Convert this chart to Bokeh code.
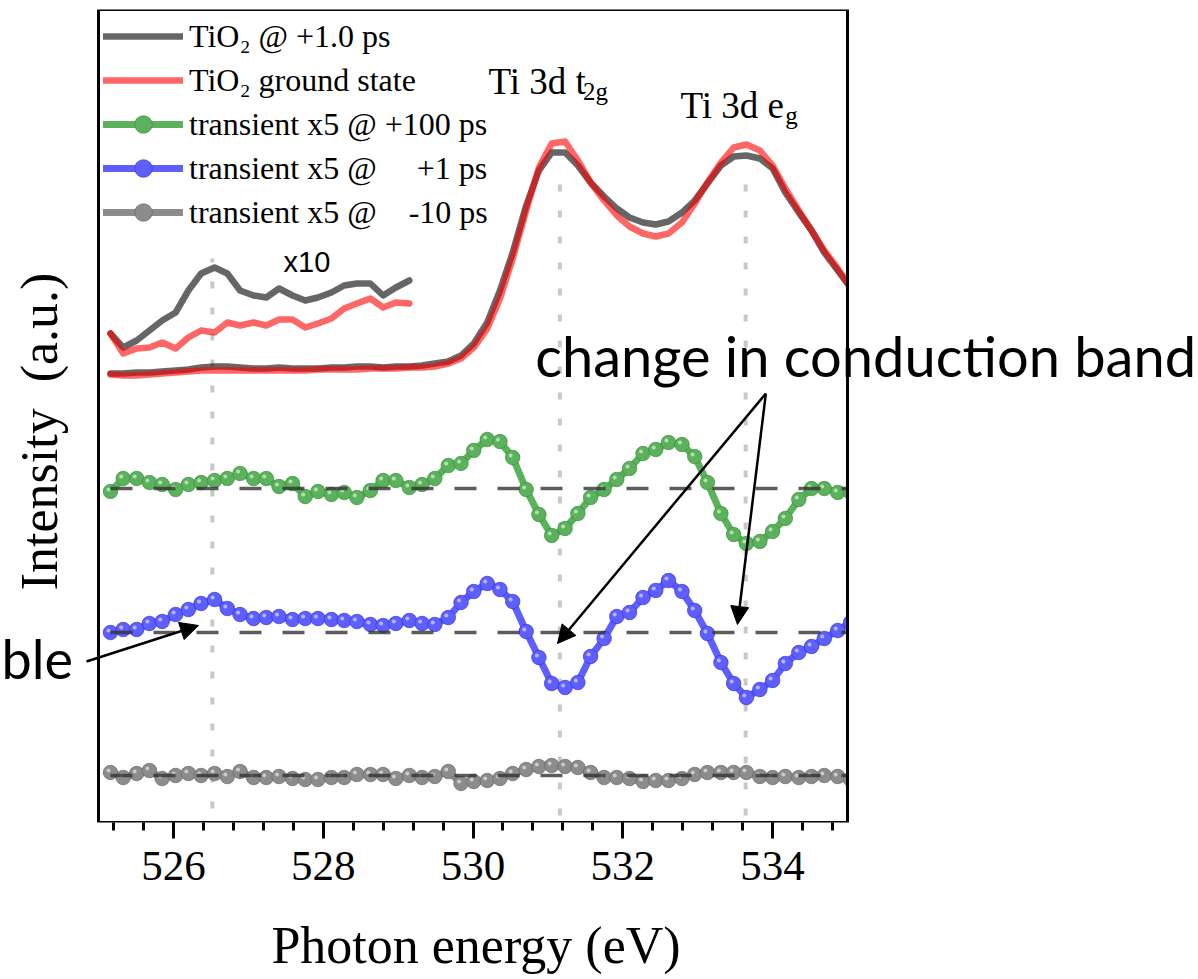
import numpy as np
from bokeh.plotting import figure
from bokeh.models import (Range1d, FixedTicker, Legend, LegendItem, Label, Arrow,
                          NormalHead, BoxAnnotation)
from bokeh.embed import file_html
from bokeh.resources import INLINE

# Photon energy grid (eV)
energy = [525.16, 525.33, 525.51, 525.68, 525.85, 526.03, 526.20, 526.37, 526.55, 526.72,
          526.89, 527.07, 527.24, 527.41, 527.59, 527.76, 527.93, 528.11, 528.28, 528.45,
          528.63, 528.80, 528.97, 529.15, 529.32, 529.49, 529.67, 529.84, 530.01, 530.19,
          530.36, 530.53, 530.71, 530.88, 531.05, 531.23, 531.40, 531.57, 531.75, 531.92,
          532.09, 532.27, 532.44, 532.61, 532.79, 532.96, 533.13, 533.31, 533.48, 533.65,
          533.83, 534.00, 534.17, 534.35, 534.52, 534.69, 534.87, 535.04]

# O K-edge absorption of TiO2 (a.u., pre-edge ~ 0)
spec_excited = [-0.01, -0.01, 0.00, 0.00, 0.01, 0.02, 0.03, 0.05, 0.06, 0.06,
                0.05, 0.04, 0.04, 0.05, 0.04, 0.04, 0.04, 0.05, 0.05, 0.06,
                0.06, 0.05, 0.06, 0.06, 0.07, 0.09, 0.11, 0.17, 0.29, 0.50,
                0.82, 1.20, 1.67, 2.02, 2.20, 2.20, 2.07, 1.90, 1.76, 1.64,
                1.55, 1.50, 1.48, 1.51, 1.60, 1.72, 1.89, 2.07, 2.16, 2.17,
                2.14, 2.04, 1.80, 1.60, 1.42, 1.20, 1.02, 0.85]
spec_ground = [-0.02, -0.03, -0.03, -0.02, -0.01, 0.00, 0.01, 0.02, 0.02, 0.02,
               0.02, 0.02, 0.02, 0.02, 0.02, 0.02, 0.03, 0.03, 0.03, 0.03,
               0.04, 0.04, 0.04, 0.05, 0.05, 0.06, 0.09, 0.14, 0.25, 0.44,
               0.74, 1.14, 1.62, 2.05, 2.29, 2.31, 2.12, 1.90, 1.72, 1.57,
               1.46, 1.39, 1.36, 1.39, 1.50, 1.69, 1.90, 2.10, 2.25, 2.28,
               2.22, 2.07, 1.84, 1.62, 1.42, 1.22, 1.04, 0.85]

# Pre-edge region magnified x10 (first 24 energies)
inset_excited = [0.39, 0.25, 0.32, 0.42, 0.52, 0.60, 0.82, 0.99, 1.05, 0.99,
                 0.82, 0.77, 0.75, 0.84, 0.77, 0.72, 0.75, 0.80, 0.87, 0.89,
                 0.89, 0.77, 0.85, 0.92]
inset_ground = [0.39, 0.19, 0.24, 0.25, 0.30, 0.24, 0.35, 0.42, 0.40, 0.50,
                0.47, 0.50, 0.47, 0.53, 0.53, 0.45, 0.49, 0.54, 0.64, 0.69,
                0.74, 0.65, 0.70, 0.69]

# Transient difference spectra x5
trans_100ps = [-0.03, 0.10, 0.10, 0.06, 0.04, -0.01, 0.04, 0.06, 0.08, 0.10,
               0.15, 0.10, 0.10, 0.02, 0.05, -0.08, -0.03, -0.06, -0.04, -0.09,
               -0.02, 0.08, 0.08, 0.01, 0.04, 0.10, 0.23, 0.25, 0.38, 0.49,
               0.47, 0.31, -0.01, -0.26, -0.47, -0.40, -0.25, -0.09, -0.01, 0.09,
               0.20, 0.35, 0.39, 0.46, 0.44, 0.32, 0.06, -0.25, -0.46, -0.55,
               -0.53, -0.43, -0.30, -0.11, 0.00, 0.00, -0.04, -0.04]
trans_1ps = [0.00, 0.03, 0.03, 0.09, 0.11, 0.18, 0.23, 0.29, 0.33, 0.24,
             0.18, 0.14, 0.15, 0.16, 0.13, 0.14, 0.14, 0.13, 0.12, 0.11,
             0.08, 0.07, 0.09, 0.12, 0.09, 0.08, 0.15, 0.30, 0.41, 0.49,
             0.43, 0.31, 0.01, -0.25, -0.51, -0.55, -0.50, -0.24, -0.06, 0.16,
             0.20, 0.35, 0.42, 0.52, 0.41, 0.22, -0.01, -0.30, -0.51, -0.65,
             -0.57, -0.48, -0.31, -0.20, -0.14, -0.06, 0.02, 0.10]
trans_m10ps = [0.03, -0.02, 0.02, 0.05, -0.03, 0.00, 0.02, 0.00, 0.02, -0.01,
               0.04, -0.02, -0.02, -0.01, -0.03, -0.04, -0.04, -0.02, -0.02, 0.01,
               0.01, 0.01, -0.03, 0.00, -0.02, -0.01, 0.04, -0.08, -0.06, -0.05,
               -0.03, 0.02, 0.06, 0.09, 0.10, 0.09, 0.08, 0.03, -0.02, -0.02,
               -0.03, -0.06, -0.05, -0.05, -0.03, 0.01, 0.03, 0.03, 0.03, 0.03,
               -0.01, -0.02, -0.01, -0.02, -0.01, 0.00, -0.01, -0.04]

# Vertical stacking offsets
spec_offset = 4.50
trans_offsets = [3.34, 1.90, 0.47]

# Feature guide lines: pre-edge, t2g, eg
feature_energy = [526.52, 531.16, 533.64]
feature_top = [5.64, 6.54, 6.52]
feature_bottom = [0.14, 0.07, 0.07]

# Axis ticks
major_ticks = [526, 528, 530, 532, 534]
minor_ticks = [round(525.2 + 0.4 * k, 1) for k in range(25)]

# Plot window in data units and the canvas margins around it (px)
E_MIN, E_MAX = 525.0, 535.0
Y_MIN, Y_MAX = 0.0, 8.13
W, H = 1198, 979
LEFT, RIGHT = 98, 847          # frame box edges in canvas px
px_per_ev = (RIGHT - LEFT) / (E_MAX - E_MIN)
x_lo = E_MIN - LEFT / px_per_ev
x_hi = x_lo + W / px_per_ev

SERIF = "Liberation Serif"
SANS = "Lato"

p = figure(width=W, height=H, x_range=Range1d(x_lo, x_hi), y_range=Range1d(Y_MIN, Y_MAX),
           output_backend="svg", toolbar_location=None, y_axis_location=None,
           min_border_left=0, min_border_right=0, min_border_top=9, min_border_bottom=157)
p.background_fill_color = "white"
p.border_fill_color = "white"
p.outline_line_color = None
p.xgrid.visible = False
p.ygrid.visible = False

# x axis, limited to the plotted energy window
xa = p.xaxis[0]
xa.bounds = (E_MIN, E_MAX)
xa.ticker = FixedTicker(ticks=major_ticks, minor_ticks=minor_ticks)
xa.axis_line_color = None
xa.major_tick_line_width = 3
xa.minor_tick_line_width = 3
xa.major_tick_line_color = "black"
xa.minor_tick_line_color = "black"
xa.major_tick_in = 0
xa.major_tick_out = 16
xa.minor_tick_in = 0
xa.minor_tick_out = 8
xa.major_label_standoff = 13
xa.major_label_text_font = SERIF
xa.major_label_text_font_size = "43px"
xa.major_label_text_color = "black"
# the title is centred on the whole canvas; trailing no-break spaces move it under the box
xa.axis_label = "Photon energy (eV)" + "\u00a0" * 19
xa.axis_label_text_font = SERIF
xa.axis_label_text_font_size = "52px"
xa.axis_label_text_font_style = "normal"
xa.axis_label_text_color = "black"
xa.axis_label_standoff = 34

# guide lines at spectral features
p.segment(x0=feature_energy, y0=feature_bottom, x1=feature_energy, y1=feature_top,
          line_color="#c8c8c8", line_width=4, line_dash="7 19")

e = np.array(energy)
n_in = len(inset_excited)

# ground / excited state spectra
r_exc = p.line(e, spec_offset + np.array(spec_excited), line_color="black", line_alpha=0.6,
               line_width=6.5, line_join="round", line_cap="round")
p.line(e[:n_in], spec_offset + np.array(inset_excited), line_color="black", line_alpha=0.6,
       line_width=6.5, line_join="round", line_cap="round")
r_gnd = p.line(e, spec_offset + np.array(spec_ground), line_color="red", line_alpha=0.6,
               line_width=6.5, line_join="round", line_cap="round")
p.line(e[:n_in], spec_offset + np.array(inset_ground), line_color="red", line_alpha=0.6,
       line_width=6.5, line_join="round", line_cap="round")

# transient difference spectra
styles = [("#5cb25c", "#3a8f3a"), ("#5f5fff", "#3434d6"), ("#8c8c8c", "#686868")]
trans_items = []
for vals, off, (fc, ec) in zip([trans_100ps, trans_1ps, trans_m10ps], trans_offsets, styles):
    y = off + np.array(vals)
    rl = p.line(e, y, line_color=fc, line_width=7, line_join="round", line_cap="round")
    rs = p.scatter(e, y, size=14.5, fill_color=fc, line_color=ec, line_width=1, line_alpha=0.7)
    p.scatter(e - 0.027, y + 0.02, size=4, fill_color="white", fill_alpha=0.55, line_color=None)
    trans_items.append([rl, rs])

# zero lines of the transients
for off in trans_offsets:
    p.line([energy[0], energy[-1]], [off, off], line_color="#333333", line_alpha=0.8,
           line_width=3.5, line_dash="22 21")

# keep the data inside the frame box on the right, then draw the box
p.add_layout(BoxAnnotation(left=E_MAX, fill_color="white", fill_alpha=1, line_color=None))
p.add_layout(BoxAnnotation(left=E_MIN, right=E_MAX, bottom=Y_MIN, top=Y_MAX, fill_alpha=0,
                           line_color="black", line_width=3, line_alpha=1))

legend = Legend(items=[
    LegendItem(label="TiO\u2082 @ +1.0 ps", renderers=[r_exc]),
    LegendItem(label="TiO\u2082 ground state", renderers=[r_gnd]),
    LegendItem(label="transient x5 @ +100 ps", renderers=trans_items[0]),
    LegendItem(label="transient x5 @" + "\u00a0" * 5 + "+1 ps", renderers=trans_items[1]),
    LegendItem(label="transient x5 @" + "\u00a0" * 4 + "-10 ps", renderers=trans_items[2]),
], location=(103, 588))
legend.margin = 0
legend.padding = 0
legend.spacing = 0
legend.glyph_width = 80
legend.glyph_height = 44
legend.label_height = 44
legend.label_standoff = 6
legend.label_text_font = SERIF
legend.label_text_font_size = "32px"
legend.label_text_color = "black"
legend.border_line_color = None
legend.background_fill_alpha = 0
p.add_layout(legend, "center")

# y axis title
p.add_layout(Label(x=E_MIN - 59 / px_per_ev, y=3.91, text="Intensity\u00a0 (a.u.)",
                   angle=np.pi / 2, text_font=SERIF, text_font_size="52px", text_color="black",
                   text_align="center", text_baseline="alphabetic"))

# peak labels
for x, y, txt, size in [(530.207, 7.41, "Ti 3d t", "37px"), (531.47, 7.31, "2g", "25px"),
                        (532.77, 7.17, "Ti 3d e", "37px"), (534.17, 7.07, "g", "25px")]:
    p.add_layout(Label(x=x, y=y, text=txt, text_font=SERIF, text_font_size=size,
                       text_color="black", text_baseline="alphabetic", text_align="left"))

p.add_layout(Label(x=527.47, y=5.61, text="x10", text_font="Liberation Sans",
                   text_font_size="29px", text_color="black", text_baseline="alphabetic"))
p.add_layout(Label(x=530.83, y=4.67, text="change in conduction band", text_font=SANS,
                   text_font_size="56px", text_color="black", text_baseline="alphabetic"))
p.add_layout(Label(x=E_MIN - 97 / px_per_ev, y=1.64, text="ble", text_font=SANS,
                   text_font_size="54px", text_color="black", text_baseline="alphabetic",
                   text_align="left"))

# annotation arrows
for xs, ys, xe, ye in [(524.84, 1.61, 526.335, 1.97),
                       (533.91, 4.29, 531.128, 1.79),
                       (533.91, 4.29, 533.531, 1.98)]:
    p.add_layout(Arrow(end=NormalHead(size=18, fill_color="black", line_color="black"),
                       x_start=xs, y_start=ys, x_end=xe, y_end=ye,
                       line_color="black", line_width=2.5))

open("out.html", "w").write(file_html(p, INLINE))
